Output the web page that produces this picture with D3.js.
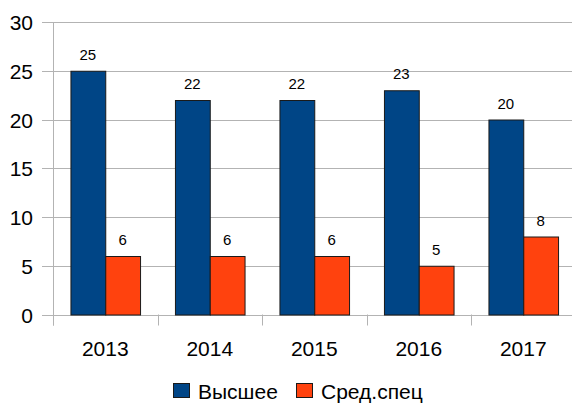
<!DOCTYPE html>
<html>
<head>
<meta charset="utf-8">
<script src="https://cdnjs.cloudflare.com/ajax/libs/d3/7.8.5/d3.min.js"></script>
<style>
  body { margin: 0; background: #fff; font-family: 'Liberation Sans', Arial, sans-serif; }
  svg { display: block; }
</style>
</head>
<body>
<script>
var years = ["2013", "2014", "2015", "2016", "2017"];
var seriesNames = ["Высшее", "Сред.спец"];
var higher = [25, 22, 22, 23, 20];
var special = [6, 6, 6, 5, 8];
var yTicks = [0, 5, 10, 15, 20, 25, 30];
var colors = ["#004586", "#ff420e"];

var width = 572, height = 403;
var plotL = 53, plotR = 575.5, plotT = 22, plotB = 314.5;

var svg = d3.select("body").append("svg")
  .attr("width", width)
  .attr("height", height);

var x = d3.scaleBand().domain(years).range([plotL, plotR]).paddingInner(0).paddingOuter(0);
var xs = d3.scaleBand().domain([0, 1]).range([x.bandwidth() * 0.167, x.bandwidth() * 0.833]);
var y = d3.scaleLinear().domain([0, 30]).range([plotB, plotT]);

// gridlines
svg.append("g").selectAll("line")
  .data(yTicks)
  .enter().append("line")
  .attr("x1", plotL - 11).attr("x2", width)
  .attr("y1", d => Math.round(y(d)) + 0.5).attr("y2", d => Math.round(y(d)) + 0.5)
  .attr("stroke", "#b3b3b3").attr("stroke-width", 1);

// y axis line
svg.append("line")
  .attr("x1", plotL + 0.5).attr("x2", plotL + 0.5)
  .attr("y1", plotT).attr("y2", plotB + 11)
  .attr("stroke", "#b3b3b3");

// x ticks
svg.append("g").selectAll("line")
  .data(years)
  .enter().append("line")
  .attr("x1", d => Math.round(x(d)) + 0.5).attr("x2", d => Math.round(x(d)) + 0.5)
  .attr("y1", plotB).attr("y2", plotB + 11)
  .attr("stroke", "#b3b3b3");

// y labels
svg.append("g").selectAll("text")
  .data(yTicks)
  .enter().append("text")
  .attr("x", 33)
  .attr("y", d => y(d) + 8)
  .attr("text-anchor", "end")
  .attr("font-size", "21px")
  .text(d => d);

// bars
var rows = years.map((yr, i) => ({ year: yr, vals: [higher[i], special[i]] }));
var grp = svg.append("g").selectAll("g")
  .data(rows)
  .enter().append("g")
  .attr("transform", d => "translate(" + x(d.year) + ",0)");

grp.selectAll("rect")
  .data(d => d.vals.map((v, k) => ({ k: k, v: v })))
  .enter().append("rect")
  .attr("x", d => xs(d.k) + 0.5)
  .attr("width", xs.bandwidth())
  .attr("y", d => y(d.v) + 0.5)
  .attr("height", d => y(0) - y(d.v))
  .attr("fill", d => colors[d.k])
  .attr("stroke", "#1a1a1a")
  .attr("stroke-width", 1);

grp.selectAll("text")
  .data(d => d.vals.map((v, k) => ({ k: k, v: v })))
  .enter().append("text")
  .attr("x", d => xs(d.k) + xs.bandwidth() / 2)
  .attr("y", d => y(d.v) - 11)
  .attr("text-anchor", "middle")
  .attr("font-size", "15px")
  .text(d => d.v);

// x labels
svg.append("g").selectAll("text")
  .data(years)
  .enter().append("text")
  .attr("x", d => x(d) + x.bandwidth() / 2)
  .attr("y", 356)
  .attr("text-anchor", "middle")
  .attr("font-size", "21px")
  .text(d => d);

// legend
var legX = [173, 296];
var leg = svg.append("g").selectAll("g")
  .data(seriesNames)
  .enter().append("g")
  .attr("transform", (d, i) => "translate(" + legX[i] + ",383)");
leg.append("rect")
  .attr("x", 0.5).attr("y", 0.5)
  .attr("width", 16).attr("height", 14)
  .attr("fill", (d, i) => colors[i])
  .attr("stroke", "#1a1a1a");
leg.append("text")
  .attr("x", 25).attr("y", 16)
  .attr("font-size", "21px")
  .text(d => d);
</script>
</body>
</html>
